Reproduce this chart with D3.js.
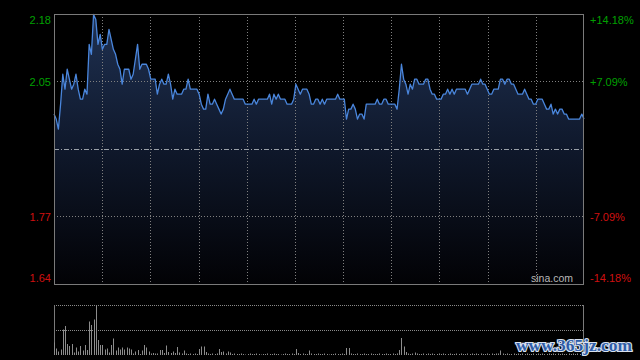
<!DOCTYPE html>
<html><head><meta charset="utf-8">
<script src="https://cdn.jsdelivr.net/npm/d3@7/dist/d3.min.js"></script>
<style>html,body{margin:0;padding:0;background:#000;}svg{display:block;}</style>
</head><body><svg id="c" width="640" height="360"></svg>
<script>
const prevClose = 1.91;
const pctTicks = [14.18, 7.09, -7.09, -14.18];
const priceLabels = ["2.18", "2.05", "1.77", "1.64"];
const pctLabels = ["+14.18%", "+7.09%", "-7.09%", "-14.18%"];
const prices = [
1.98,1.97,1.95,2.00,2.06,2.03,2.07,2.05,2.03,2.04,
2.06,2.03,2.01,2.01,2.03,2.02,2.12,2.10,2.18,2.17,
2.12,2.14,2.11,2.12,2.12,2.15,2.13,2.11,2.10,2.08,
2.07,2.04,2.07,2.07,2.07,2.05,2.06,2.09,2.12,2.07,
2.08,2.08,2.08,2.07,2.05,2.05,2.05,2.02,2.04,2.05,
2.04,2.04,2.06,2.04,2.01,2.03,2.02,2.02,2.02,2.03,
2.03,2.05,2.03,2.03,2.03,2.03,2.02,2.00,1.99,1.99,
2.02,2.00,2.00,2.01,2.00,1.99,1.98,1.99,2.01,2.02,
2.03,2.02,2.01,2.01,2.01,2.01,2.01,2.00,2.00,2.00,
2.00,2.01,2.00,2.01,2.01,2.01,2.01,2.01,2.02,2.00,
2.02,2.01,2.02,2.01,2.01,2.01,2.00,2.00,2.00,2.01,
2.04,2.03,2.02,2.03,2.03,2.03,2.02,2.00,2.00,2.01,
2.01,2.00,2.01,2.00,2.01,2.01,2.01,2.01,2.01,2.02,
2.01,2.01,2.01,1.97,1.99,1.99,2.00,1.99,1.97,1.98,
1.98,1.97,2.00,2.00,2.00,2.00,2.00,2.01,2.00,2.00,
2.01,2.01,2.00,2.00,2.00,2.00,1.99,2.03,2.08,2.05,
2.04,2.02,2.04,2.03,2.05,2.05,2.04,2.04,2.04,2.05,
2.05,2.03,2.02,2.02,2.01,2.01,2.01,2.02,2.02,2.03,
2.02,2.03,2.02,2.03,2.03,2.03,2.03,2.03,2.02,2.03,
2.04,2.04,2.04,2.04,2.05,2.04,2.04,2.03,2.02,2.02,
2.03,2.03,2.03,2.05,2.05,2.04,2.05,2.05,2.04,2.04,
2.03,2.02,2.02,2.02,2.03,2.02,2.01,2.01,2.00,2.00,
2.01,2.01,2.01,2.00,1.99,1.99,2.00,1.98,1.99,1.98,
1.99,1.99,1.98,1.98,1.97,1.97,1.97,1.97,1.97,1.97,
1.98,1.97
];
const volumes = [
25,13,7,11,51,58,22,18,22,5,
15,7,18,9,20,10,67,60,71,100,
30,20,20,11,13,5,20,33,9,15,
11,15,11,15,13,11,3,7,10,2,
9,20,15,7,3,4,3,3,10,10,
4,19,6,4,7,4,16,5,3,9,
3,2,3,2,3,2,12,17,17,6,
3,2,3,2,3,12,6,7,3,7,
5,2,3,2,2,3,2,1,2,3,
2,2,3,2,1,2,2,3,2,2,
3,2,2,1,2,3,2,2,3,2,
12,4,2,3,2,2,9,3,2,2,
3,2,2,3,2,1,2,2,3,2,
2,3,2,14,14,3,2,2,3,2,
2,3,2,2,3,2,2,2,3,2,
2,3,2,2,3,2,3,10,34,17,
6,3,2,3,5,3,2,2,3,2,
3,2,3,2,2,3,2,3,2,2,
3,2,2,3,2,3,2,2,3,2,
3,2,3,2,3,2,2,3,2,3,
2,3,3,9,3,2,3,2,2,3,
2,3,2,3,2,3,2,2,3,2,
3,2,3,2,2,3,2,3,2,3,
2,3,2,2,3,2,3,2,3,2,
3,2
];

const svg = d3.select("#c");
const L = 54, R = 584, T = 14, B = 284;
const VT = 305, VB = 355;
const n = prices.length;

const x = d3.scaleLinear().domain([0, n - 1]).range([L, R]);
const gx = d3.scaleLinear().domain([0, 11]).range([L, R]);
const y = d3.scaleLinear()
  .domain([prevClose * (1 - 0.1418), prevClose * (1 + 0.1418)])
  .range([B, T]);
const pctY = p => y(prevClose * (1 + p / 100));
const yv = d3.scaleLinear().domain([0, d3.max(volumes)]).range([VB, VT]);

svg.append("rect").attr("width", 640).attr("height", 360).attr("fill", "#000");

const defs = svg.append("defs");
const grad = defs.append("linearGradient").attr("id", "g")
  .attr("gradientUnits", "userSpaceOnUse")
  .attr("x1", 0).attr("x2", 0).attr("y1", T).attr("y2", B);
grad.append("stop").attr("offset", 0).attr("stop-color", "#1f3152");
grad.append("stop").attr("offset", 0.5).attr("stop-color", "#0f182b");
grad.append("stop").attr("offset", 1).attr("stop-color", "#020205");

svg.append("path").datum(prices)
  .attr("fill", "url(#g)")
  .attr("d", d3.area().x((d, i) => x(i)).y0(B).y1(d => y(d)));

const gridColor = "#808080";
d3.range(1, 11).forEach(k => {
  svg.append("line").attr("x1", Math.round(gx(k)) + 0.5).attr("x2", Math.round(gx(k)) + 0.5)
    .attr("y1", T).attr("y2", B)
    .attr("stroke", gridColor).attr("stroke-width", 1).attr("stroke-dasharray", "1,2");
});
[7.09, -7.09].forEach(p => {
  svg.append("line").attr("x1", L).attr("x2", R)
    .attr("y1", Math.round(pctY(p)) + 0.5).attr("y2", Math.round(pctY(p)) + 0.5)
    .attr("stroke", gridColor).attr("stroke-dasharray", "1,2");
});
svg.append("line").attr("x1", L).attr("x2", R)
  .attr("y1", Math.round(pctY(0)) + 0.5).attr("y2", Math.round(pctY(0)) + 0.5)
  .attr("stroke", "#9aa0a8").attr("stroke-dasharray", "5,2,1,2");

svg.append("path").datum(prices)
  .attr("fill", "none").attr("stroke", "#4a86dc").attr("stroke-width", 1.3)
  .attr("stroke-linejoin", "round")
  .attr("d", d3.line().x((d, i) => x(i)).y(d => y(d)));

svg.append("rect").attr("x", L + 0.5).attr("y", T + 0.5).attr("width", R - L - 1).attr("height", B - T)
  .attr("fill", "none").attr("stroke", "#7a7a7a");

const lf = "'Liberation Sans', Arial, sans-serif";
pctTicks.forEach((p, i) => {
  const yy = Math.max(20, Math.min(278, pctY(p)));
  const col = p > 0 ? "#00a000" : "#d01010";
  svg.append("text").attr("x", 51).attr("y", yy + 4).attr("text-anchor", "end")
    .attr("font-family", lf).attr("font-size", 11).attr("fill", col).text(priceLabels[i]);
  svg.append("text").attr("x", 590).attr("y", yy + 4)
    .attr("font-family", lf).attr("font-size", 11).attr("fill", col).text(pctLabels[i]);
});
svg.append("text").attr("x", 573).attr("y", 282).attr("text-anchor", "end")
  .attr("font-family", lf).attr("font-size", 10.5).attr("fill", "#b8b8b8").text("sina.com");

[VT, (VT + VB) / 2].forEach(v => {
  svg.append("line").attr("x1", L).attr("x2", R).attr("y1", v + 0.5).attr("y2", v + 0.5)
    .attr("stroke", "#8a8a8a").attr("stroke-dasharray", "1,1");
});
svg.append("line").attr("x1", L + 0.5).attr("x2", L + 0.5).attr("y1", VT).attr("y2", VB)
  .attr("stroke", "#7a7a7a");
svg.append("line").attr("x1", R - 0.5).attr("x2", R - 0.5).attr("y1", VT).attr("y2", VB)
  .attr("stroke", "#7a7a7a");
svg.append("g").selectAll("rect").data(volumes).join("rect")
  .attr("x", (d, i) => Math.round(x(i)))
  .attr("width", 1)
  .attr("y", d => yv(d))
  .attr("height", d => VB - yv(d))
  .attr("fill", "#8c8c8c");

svg.append("text").attr("x", 516).attr("y", 351)
  .attr("font-family", "'Liberation Serif', 'DejaVu Serif', serif").attr("font-weight", "bold")
  .attr("font-size", 17).attr("fill", "#2f5da8")
  .attr("textLength", 116).attr("lengthAdjust", "spacingAndGlyphs")
  .attr("stroke", "#d8e0ee").attr("stroke-width", 2.2).attr("paint-order", "stroke")
  .text("www.365jz.com");
</script></body></html>
